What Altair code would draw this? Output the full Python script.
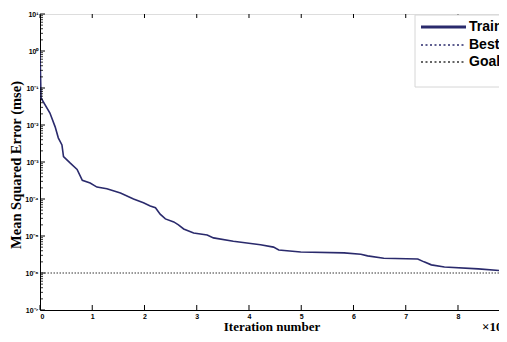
import altair as alt
import pandas as pd

# Training record (iterations in units of 10^4)
iter_x = [0.0, 0.02, 0.19, 0.29, 0.35, 0.42, 0.45, 0.58, 0.71, 0.81, 0.96, 1.09, 1.28,
          1.54, 1.79, 1.98, 2.11, 2.21, 2.30, 2.40, 2.56, 2.65, 2.75, 2.94, 3.20, 3.32,
          3.70, 4.22, 4.47, 4.57, 4.99, 5.82, 6.14, 6.27, 6.58, 7.23, 7.35, 7.49, 7.74,
          8.39, 8.96]
train_mse = [1.0, 0.054, 0.021, 0.0089, 0.0045, 0.0029, 0.0014, 9.3e-4, 6.3e-4, 3.2e-4,
             2.7e-4, 2.1e-4, 1.9e-4, 1.45e-4, 1.0e-4, 7.9e-5, 6.5e-5, 5.8e-5, 3.9e-5,
             2.9e-5, 2.4e-5, 2.0e-5, 1.55e-5, 1.2e-5, 1.07e-5, 8.9e-6, 7.2e-6, 5.8e-6,
             5.0e-6, 4.2e-6, 3.7e-6, 3.5e-6, 3.2e-6, 2.9e-6, 2.5e-6, 2.4e-6, 2.0e-6,
             1.66e-6, 1.45e-6, 1.29e-6, 1.12e-6]
goal_mse = 1e-6

x_ticks = [0, 1, 2, 3, 4, 5, 6, 7, 8]
y_exponents = [1, 0, -1, -2, -3, -4, -5, -6, -7]
y_labels = ["10¹", "10⁰", "10⁻¹", "10⁻²", "10⁻³", "10⁻⁴", "10⁻⁵", "10⁻⁶", "10⁻⁷"]
legend_names = ["Train", "Best", "Goal"]
x_title = "Iteration number"
x_scale_note = "×10⁴"
y_title = "Mean Squared Error (mse)"

W, H = 459, 296
NAVY = "#2a2a6c"
SANS = "Liberation Sans"
SERIF = "Liberation Serif"

y_decades = [10.0 ** e for e in y_exponents]
y_minor = [m * 10.0 ** e for e in range(-7, 1) for m in range(2, 10)]

xs = alt.Scale(domain=[0, 8.785], nice=False, zero=False)
ys = alt.Scale(type="log", domain=[1e-7, 10], nice=False)

expr = "''"
for e, lab in zip(y_exponents, y_labels):
    expr = f"round(log(datum.value)/LN10) == {e} ? '{lab}' : (" + expr + ")"

x_axis = alt.Axis(values=x_ticks, ticks=False, grid=False, domainColor="black",
                  labelFont=SANS, labelFontWeight="bold", labelFontSize=7,
                  labelColor="black", labelPadding=2, title=None)
y_axis = alt.Axis(values=y_decades, ticks=False, grid=False, domainColor="black",
                  labelFont=SANS, labelFontWeight="bold", labelFontSize=7,
                  labelColor="black", labelPadding=2, labelExpr=expr, title=None)

df = pd.DataFrame({"iter": iter_x, "mse": train_mse})
one = alt.Data(values=[{}])

train = alt.Chart(df).mark_line(color=NAVY, strokeWidth=1.6, clip=True).encode(
    x=alt.X("iter:Q", scale=xs, axis=x_axis),
    y=alt.Y("mse:Q", scale=ys, axis=y_axis),
)

goal = alt.Chart(one).mark_rule(color="#333333", strokeWidth=1, strokeDash=[1.5, 1.5]).encode(
    y=alt.Y(datum=goal_mse, scale=ys, axis=y_axis)
)

xt = pd.DataFrame({"t": x_ticks})
x_ticks_bottom = alt.Chart(xt).mark_rule(color="black", strokeWidth=1).encode(
    x=alt.X("t:Q", scale=xs, axis=x_axis), y=alt.value(H), y2=alt.value(H - 5))
x_ticks_top = alt.Chart(xt).mark_rule(color="black", strokeWidth=1).encode(
    x=alt.X("t:Q", scale=xs, axis=x_axis), y=alt.value(0), y2=alt.value(4))

yt = pd.DataFrame({"v": y_decades})
ym = pd.DataFrame({"v": y_minor})
y_major_ticks = alt.Chart(yt).mark_rule(color="black", strokeWidth=1).encode(
    y=alt.Y("v:Q", scale=ys, axis=y_axis), x=alt.value(0), x2=alt.value(5))
y_minor_ticks = alt.Chart(ym).mark_rule(color="black", strokeWidth=0.8).encode(
    y=alt.Y("v:Q", scale=ys, axis=y_axis), x=alt.value(0), x2=alt.value(3))

LX = 381  # legend sample start (plot coordinates)
legend_box = alt.Chart(one).mark_rect(fill="white", stroke="#d6d6d6", strokeWidth=1).encode(
    x=alt.value(LX - 6), x2=alt.value(470), y=alt.value(1), y2=alt.value(73))

leg_train = alt.Chart(one).mark_rule(color=NAVY, strokeWidth=3).encode(
    x=alt.value(LX), x2=alt.value(LX + 45), y=alt.value(13))
leg_best = alt.Chart(one).mark_rule(color=NAVY, strokeWidth=1.5, strokeDash=[2, 2.5]).encode(
    x=alt.value(LX), x2=alt.value(LX + 45), y=alt.value(31))
leg_goal = alt.Chart(one).mark_rule(color="#333333", strokeWidth=1.5, strokeDash=[2, 2.5]).encode(
    x=alt.value(LX), x2=alt.value(LX + 45), y=alt.value(48))

leg_texts = [
    alt.Chart(one).mark_text(text=name, font=SANS, fontWeight="bold", fontSize=14,
                             align="left", baseline="middle", color="black").encode(
        x=alt.value(LX + 48), y=alt.value(yy))
    for name, yy in zip(legend_names, [13, 31, 48])
]

xtitle = alt.Chart(one).mark_text(text=x_title, font=SERIF, fontWeight="bold", fontSize=13,
                                  align="center", baseline="alphabetic", color="black").encode(
    x=alt.value(232), y=alt.value(317))
xnote = alt.Chart(one).mark_text(text=x_scale_note, font=SERIF, fontWeight="bold", fontSize=13,
                                 align="left", baseline="alphabetic", color="black").encode(
    x=alt.value(442), y=alt.value(317))
ytitle = alt.Chart(one).mark_text(text=y_title, font=SERIF, fontWeight="bold", fontSize=14.5,
                                  align="center", baseline="middle", angle=270,
                                  color="black").encode(
    x=alt.value(-23), y=alt.value(151))

chart = alt.layer(
    goal, train, x_ticks_bottom, x_ticks_top, y_major_ticks, y_minor_ticks,
    legend_box, leg_train, leg_best, leg_goal, *leg_texts, xtitle, xnote, ytitle
).properties(
    width=W, height=H,
    autosize=alt.AutoSizeParams(type="none"),
    padding={"left": 32, "top": 6, "right": 0, "bottom": 24},
).configure_view(stroke="black", strokeWidth=1).configure(background="white")

chart.save("out.html", embed_options={"renderer": "svg", "actions": False})
